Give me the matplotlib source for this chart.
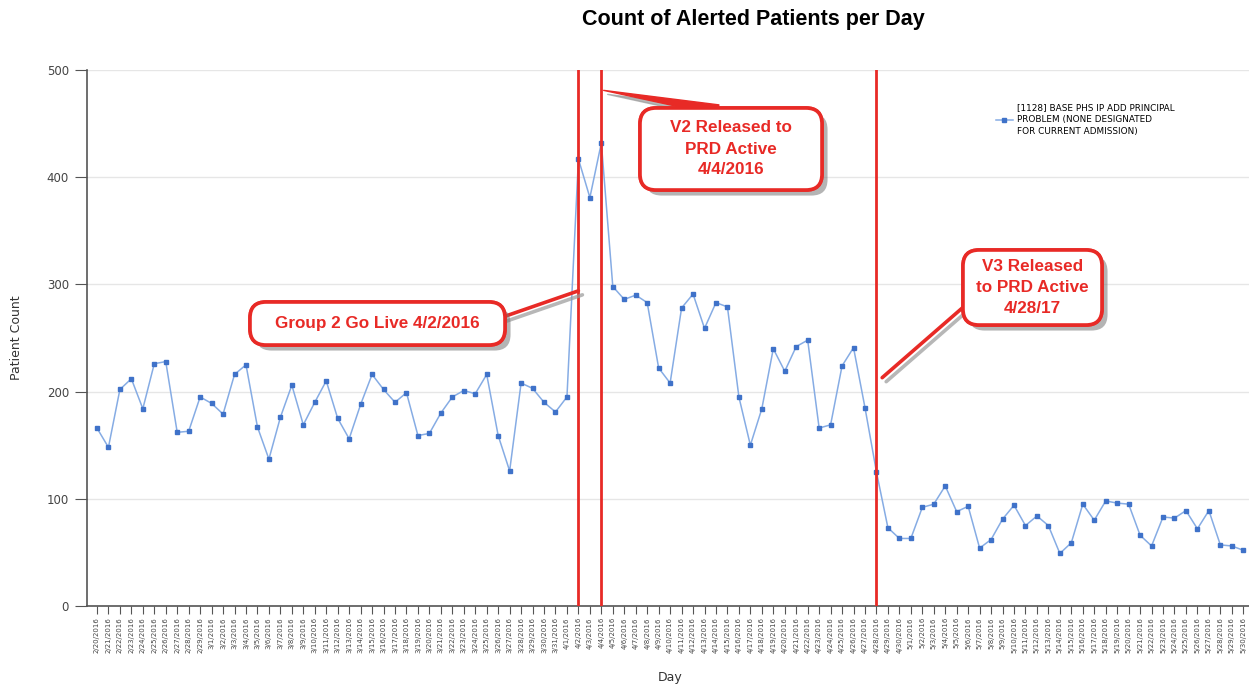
import numpy as np
import pandas as pd
import matplotlib
matplotlib.use("Agg")
import matplotlib.pyplot as plt
import matplotlib.patheffects as pe
from matplotlib.patches import FancyBboxPatch
from matplotlib.transforms import IdentityTransform

# Tages-Kategorien 2/20/2016 .. 5/30/2016
days = pd.date_range("2016-02-20", "2016-05-30", freq="D")
day_labels = [f"{d.month}/{d.day}/{d.year}" for d in days]

patient_count = [
    166, 148, 202, 212, 184, 226, 228, 162, 163, 195,
    189, 179, 216, 225, 167, 137, 176, 206, 169, 190,
    210, 175, 156, 188, 216, 202, 190, 199, 159, 161,
    180, 195, 201, 198, 216, 159, 126, 208, 203, 190,
    181, 195, 417, 381, 432, 298, 286, 290, 283, 222,
    208, 278, 291, 259, 283, 279, 195, 150, 184, 240,
    219, 242, 248, 166, 169, 224, 241, 185, 125, 73,
    63, 63, 92, 95, 112, 88, 93, 54, 62, 81,
    94, 75, 84, 75, 49, 59, 95, 80, 98, 96,
    95, 66, 56, 83, 82, 89, 72, 89, 57, 56,
    52,
]

series_name = "[1128] BASE PHS IP ADD PRINCIPAL\nPROBLEM (NONE DESIGNATED\nFOR CURRENT ADMISSION)"

event_days = ["4/2/2016", "4/4/2016", "4/28/2016"]
event_texts = ["Group 2 Go Live 4/2/2016",
               "V2 Released to\nPRD Active\n4/4/2016",
               "V3 Released\nto PRD Active\n4/28/17"]

red = "#e82a26"
W, H = 1249, 684

fig = plt.figure(figsize=(W / 100, H / 100), dpi=100)
ax = fig.add_axes([87 / W, 78 / H, 1162 / W, 536 / H])

x = np.arange(len(patient_count))
ax.plot(x, patient_count, color="#86ace4", lw=1.1, marker="s", ms=3.4,
        mfc="#3f72c9", mec="#3f72c9", label=series_name, zorder=3)

ax.set_xlim(-0.87, 100.5)
ax.set_ylim(0, 500)
ax.set_yticks([0, 100, 200, 300, 400, 500])
ax.grid(axis="y", color="#e6e6e6", lw=1)
ax.set_axisbelow(True)
ax.set_xticks(x)
ax.set_xticklabels(day_labels, rotation=90, fontsize=5, color="#444444")
ax.tick_params(axis="x", length=6, color="#555555", pad=2)
ax.tick_params(axis="y", length=9, color="#555555", labelsize=8.5, labelcolor="#444444", pad=4)
for s in ["top", "right"]:
    ax.spines[s].set_visible(False)
for s in ["left", "bottom"]:
    ax.spines[s].set_color("#555555")
    ax.spines[s].set_linewidth(1.2)

ax.set_ylabel("Patient Count", fontsize=9, color="#333333")
ax.yaxis.set_label_coords(-0.055, 0.5)
fig.text(670 / W, 1 - 677 / H, "Day", fontsize=9, color="#333333", ha="center", va="center")
fig.text(753 / W, 1 - 20 / H, "Count of Alerted Patients per Day", fontsize=15.5,
         fontweight="bold", ha="center", va="center", family="Liberation Sans")

leg = ax.legend(loc="upper left", bbox_to_anchor=(988 / W, 1 - 95 / H),
                bbox_transform=fig.transFigure, frameon=False, fontsize=6.4,
                handlelength=1.9, handletextpad=0.5)
leg.get_texts()[0].set_linespacing(1.45)

# Senkrechte Linien
for d in event_days:
    ax.axvline(day_labels.index(d), color=red, lw=2, zorder=4)

shadow = [pe.withSimplePatchShadow(offset=(4, -4), shadow_rgbFace="#777777", alpha=0.55),
          pe.Normal()]

# Boxen in Pixeln (links, oben, rechts, unten)
boxes = [(250, 302, 505, 345), (640, 108, 822, 190), (963, 250, 1102, 325)]
pointer_from = [(500, 318), (718, 110), (968, 303)]
pointer_to = [(day_labels.index("4/2/2016"), 294),
              (day_labels.index("4/4/2016") + 0.2, 481),
              (day_labels.index("4/28/2016") + 0.5, 213)]
pointer_style = ["-", "wedge,tail_width=0.75", "-"]

for txt, (l, t, r, b), pf, pt, st in zip(event_texts, boxes, pointer_from, pointer_to, pointer_style):
    tip = ax.transData.transform(pt)
    start = (pf[0], H - pf[1])
    lw = 2.6 if st == "-" else 1
    # Schatten des Zeigers
    ax.annotate("", xy=(tip[0] + 4, tip[1] - 4), xytext=(start[0] + 4, start[1] - 4),
                xycoords="figure pixels", textcoords="figure pixels",
                arrowprops=dict(arrowstyle=st, fc="#999999", ec="#999999", lw=lw,
                                shrinkA=0, shrinkB=0, alpha=0.7),
                zorder=5, annotation_clip=False)
    ax.annotate("", xy=tip, xytext=start, xycoords="figure pixels", textcoords="figure pixels",
                arrowprops=dict(arrowstyle=st, fc=red, ec=red, lw=lw, shrinkA=0, shrinkB=0),
                zorder=5, annotation_clip=False)
    box = FancyBboxPatch((l, H - b), r - l, b - t, boxstyle="round,pad=0,rounding_size=16",
                         transform=IdentityTransform(), fc="white", ec=red, lw=2.6, zorder=6)
    box.set_path_effects(shadow)
    fig.add_artist(box)
    fig.text((l + r) / 2 / W, 1 - (t + b) / 2 / H, txt, ha="center", va="center",
             fontsize=12.3, fontweight="bold", color=red, family="Liberation Sans",
             linespacing=1.5, zorder=7)

fig.savefig("out.png", dpi=100)
